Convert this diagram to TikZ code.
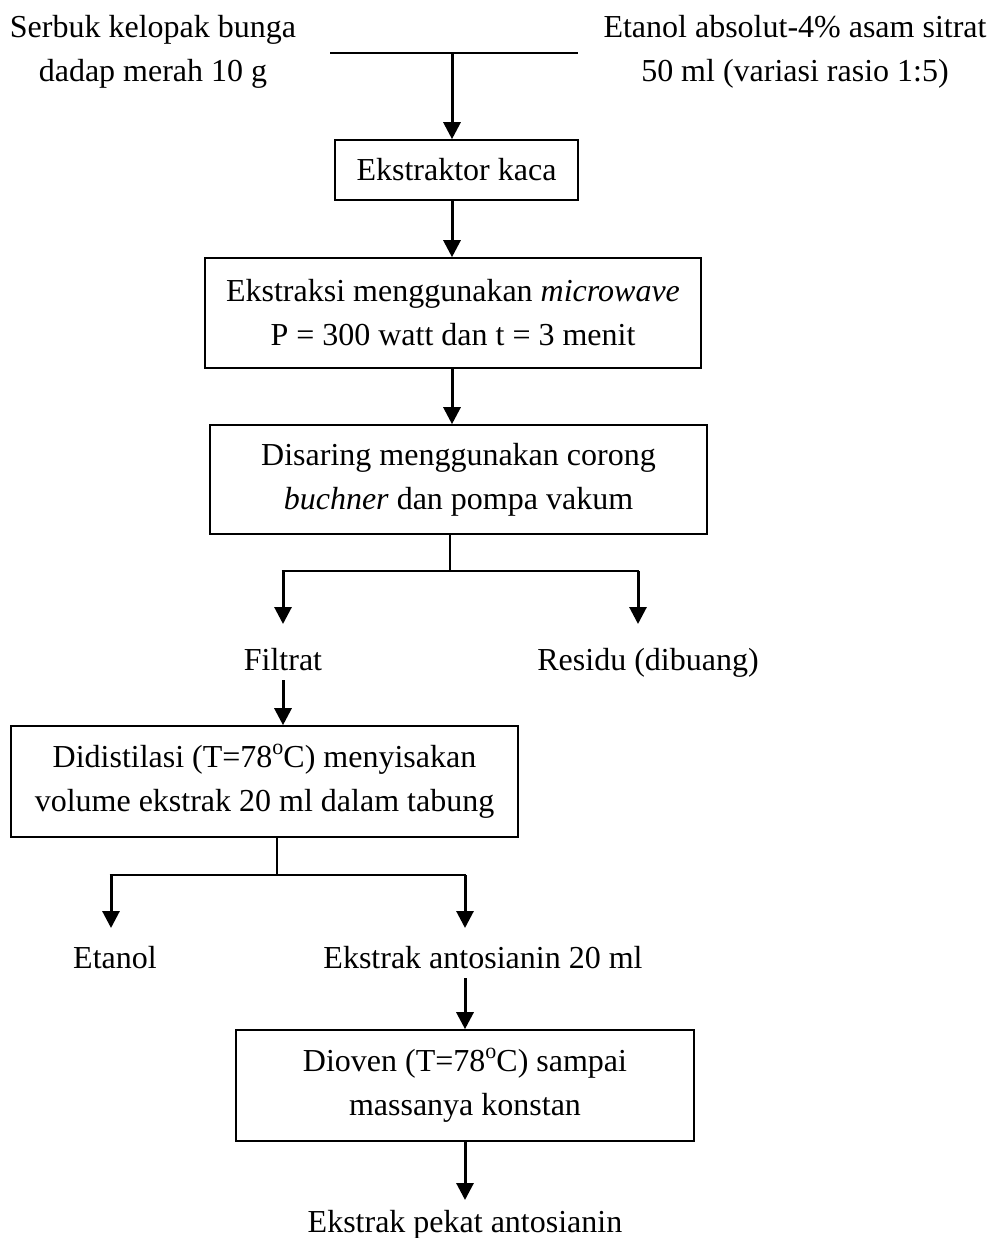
\documentclass[tikz,border=0pt]{standalone}
\usepackage{fontspec}
\setmainfont{Liberation Serif}
\usetikzlibrary{arrows.meta,calc}
\newcommand{\degsup}{\raisebox{13pt}{\fontsize{22}{22}\selectfont o}}
\begin{document}
\begin{tikzpicture}[x=1pt,y=-1pt,
  txt/.style={font=\fontsize{32}{44}\selectfont, align=center, inner sep=0pt},
  stepbox/.style={txt, draw, line width=1.6pt, anchor=center},
  arr/.style={line width=3pt, -{Triangle[width=17pt,length=17pt]}},
  ln/.style={line width=2.6pt},
  thin/.style={line width=1.6pt}]
\useasboundingbox (0,0) rectangle (992,1238);
% top inputs
\node[txt] (in1) at (153,52) {Serbuk kelopak bunga\\dadap merah 10 g};
\node[txt] (in2) at (795,52) {Etanol absolut-4\% asam sitrat\\50 ml (variasi rasio 1:5)};
\coordinate (tl) at (330,53);
\coordinate (tr) at (578,53);
\coordinate (tj) at (452,53);
\draw[ln] (tl) -- (tr);
% boxes
\node[stepbox, minimum width=243pt, minimum height=60pt] (b1) at (456.5,170) {Ekstraktor kaca};
\node[stepbox, minimum width=496pt, minimum height=110pt] (b2) at (453,313) {Ekstraksi menggunakan \textit{microwave}\\P = 300 watt dan t = 3 menit};
\node[stepbox, minimum width=497pt, minimum height=109pt] (b3) at (458.5,479.5) {Disaring menggunakan corong\\\textit{buchner} dan pompa vakum};
\node[stepbox, minimum width=507pt, minimum height=111pt] (b4) at (264.5,781.5) {Didistilasi (T=78\degsup C) menyisakan\\volume ekstrak 20 ml dalam tabung};
\node[stepbox, minimum width=458pt, minimum height=111pt] (b5) at (465,1085.5) {Dioven (T=78\degsup C) sampai\\massanya konstan};
% arrows main
\draw[arr] (tj) -- (tj |- b1.north);
\draw[arr] (b1.south -| tj) -- (b2.north -| tj);
\draw[arr] (b2.south -| tj) -- (b3.north -| tj);
% split 1
\coordinate (j1) at (450,571);
\coordinate (fl) at (283,571);
\coordinate (fr) at (638,571);
\coordinate (fa) at (283,624);
\coordinate (ra) at (638,624);
\draw[thin] (b3.south -| j1) -- (j1);
\draw[ln] ([xshift=-1.3pt]fl) -- ([xshift=1.3pt]fr);
\draw[arr] (fl) -- (fa);
\draw[arr] (fr) -- (ra);
\node[txt, anchor=base] (filtrat) at (283,670) {Filtrat};
\node[txt, anchor=base] (residu) at (648,670) {Residu (dibuang)};
\coordinate (fs) at (283,680);
\draw[arr] (fs) -- (fs |- b4.north);
% split 2
\coordinate (j2) at (277,875);
\coordinate (el) at (111,875);
\coordinate (er) at (465,875);
\coordinate (ea) at (111,928);
\coordinate (xa) at (465,928);
\draw[thin] (b4.south -| j2) -- (j2);
\draw[ln] ([xshift=-1.3pt]el) -- ([xshift=1.3pt]er);
\draw[arr] (el) -- (ea);
\draw[arr] (er) -- (xa);
\node[txt, anchor=base] (etanol) at (115,968) {Etanol};
\node[txt, anchor=base] (ekstrak) at (483,968) {Ekstrak antosianin 20 ml};
\coordinate (xs) at (465,978);
\draw[arr] (xs) -- (xs |- b5.north);
\coordinate (pa) at (465,1200);
\draw[arr] (b5.south -| pa) -- (pa);
\node[txt, anchor=base] (pekat) at (465,1232) {Ekstrak pekat antosianin};
\end{tikzpicture}
\end{document}
